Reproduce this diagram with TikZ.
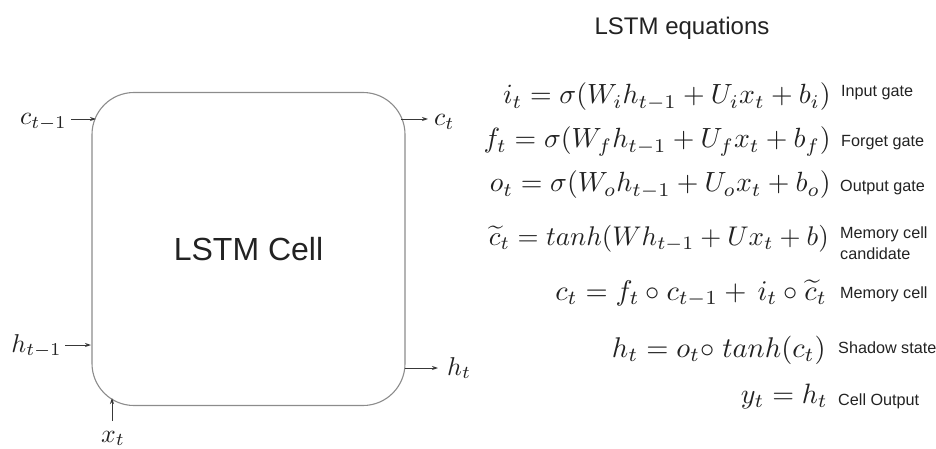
\documentclass[tikz,border=0pt]{standalone}
\usepackage{graphicx}
\usepackage{fontspec}
\setsansfont{Liberation Sans}
\usetikzlibrary{arrows.meta,calc}
\definecolor{ink}{HTML}{222222}
\definecolor{boxline}{HTML}{8C8C8C}
\newcommand{\eqscaled}[2][2.78]{\scalebox{#1}{$#2$}}
\newcommand{\lblscaled}[1]{\scalebox{2.58}{$#1$}}
\tikzset{
  flow/.style={draw=ink!90, line width=0.9pt, -{Stealth[length=6pt,width=4pt]}},
  mlabel/.style={inner sep=0pt, text=ink},
  eqn/.style={inner sep=0pt, text=ink, anchor=base east},
  gatelabel/.style={inner sep=0pt, text=ink, anchor=base west, font=\sffamily\fontsize{16.2}{18}\selectfont},
}
\begin{document}
\begin{tikzpicture}[x=1pt,y=-1pt]
\useasboundingbox (0,0) rectangle (936,449);
% cell
\node[draw=boxline, line width=1.1pt, rounded corners=42pt, minimum width=313pt, minimum height=313pt,
      text=ink, font=\sffamily\fontsize{32}{34}\selectfont] (cell) at (248.5,249) {LSTM Cell};
% input / output labels
\node[mlabel, anchor=base east] (cin) at (67,125) {\lblscaled{c_{t-1}}};
\node[mlabel, anchor=base west] (cout) at (434,126) {\lblscaled{c_t}};
\node[mlabel, anchor=base east] (hin) at (62,352) {\lblscaled{h_{t-1}}};
\node[mlabel, anchor=base west] (hout) at (447,375) {\lblscaled{h_t}};
\node[mlabel, anchor=base] (xin) at (113,442) {\lblscaled{x_t}};
% connector end points on the cell border
\coordinate (cinE) at (96,119);
\coordinate (coutS) at (401,119);
\coordinate (hinE) at (91,345);
\coordinate (houtS) at (405,368);
\coordinate (xinE) at (112,398);
\coordinate (xinS) at (112,421);
\draw[flow] ($(cin.east |- cinE)+(4,0)$) -- (cinE);
\draw[flow] (coutS) -- ($(cout.west |- coutS)+(-6,0)$);
\draw[flow] ($(hin.east |- hinE)+(3,0)$) -- (hinE);
\draw[flow] (houtS) -- ($(hout.west |- houtS)+(-9,0)$);
\draw[flow] (xinS) -- (xinE);
% title
\node[inner sep=0pt, text=ink, anchor=base, font=\sffamily\fontsize{24}{26}\selectfont] (title) at (682,35) {LSTM equations};
% equations
\node[eqn] (e1) at (831,104) {\eqscaled{i_t = \sigma(W_i h_{t-1} + U_i x_t + b_i)}};
\node[eqn] (e2) at (831,148) {\eqscaled{f_t = \sigma(W_f h_{t-1} + U_f x_t + b_f)}};
\node[eqn] (e3) at (831,192) {\eqscaled{o_t = \sigma(W_o h_{t-1} + U_o x_t + b_o)}};
\node[eqn] (e4) at (829,245) {\eqscaled[2.7]{\widetilde{c}_t = tanh(W h_{t-1} + U x_t + b)}};
\node[eqn] (e5) at (827,300) {\eqscaled[2.85]{c_t = f_t \circ c_{t-1} + \, i_t \circ \widetilde{c}_t}};
\node[eqn] (e6) at (826,357) {\eqscaled[2.85]{h_t = o_t{\circ}\; tanh(c_t)}};
\node[eqn] (e7) at (828,403) {\eqscaled[2.8]{y_t = h_t}};
% labels
\node[gatelabel] (l1) at (841,97) {Input gate};
\node[gatelabel] (l2) at (841,147) {Forget gate};
\node[gatelabel] (l3) at (840,192) {Output gate};
\node[gatelabel] (l4a) at (840,238) {Memory cell};
\node[gatelabel] (l4b) at (840,259) {candidate};
\node[gatelabel] (l5) at (840,298) {Memory cell};
\node[gatelabel] (l6) at (838,353) {Shadow state};
\node[gatelabel] (l7) at (838,405) {Cell Output};
\end{tikzpicture}
\end{document}
